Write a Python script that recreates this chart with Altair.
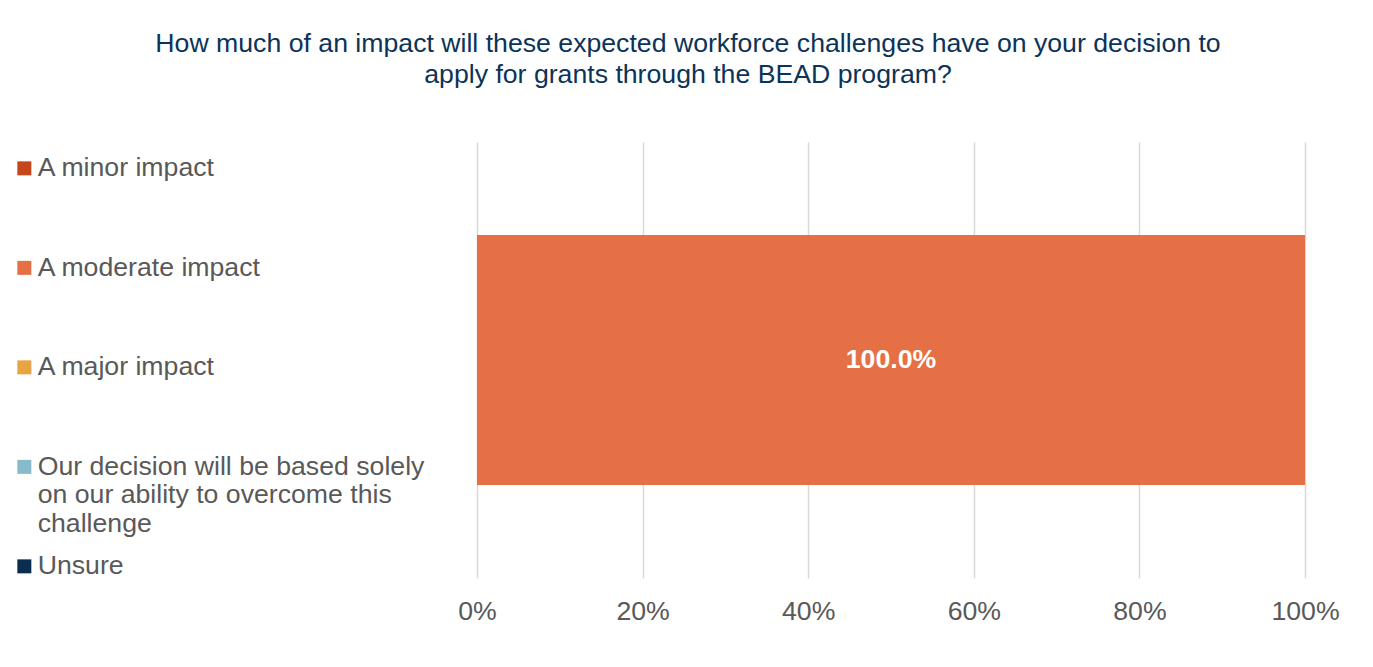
import altair as alt
import pandas as pd

TITLE_LINES = [
    "How much of an impact will these expected workforce challenges have on your decision to",
    "apply for grants through the BEAD program?",
]
CATEGORIES = [
    "A minor impact",
    "A moderate impact",
    "A major impact",
    "Our decision will be based solely on our ability to overcome this challenge",
    "Unsure",
]
WRAPPED = {
    "Our decision will be based solely on our ability to overcome this challenge": [
        "Our decision will be based solely",
        "on our ability to overcome this",
        "challenge",
    ]
}
VALUES = [0.0, 100.0, 0.0, 0.0, 0.0]
COLORS = ["#C5461B", "#E67045", "#E8A443", "#87BACB", "#0B2D4F"]
TICKS = [0, 20, 40, 60, 80, 100]

df = pd.DataFrame({
    "row": ["all"] * len(CATEGORIES),
    "category": CATEGORIES,
    "value": VALUES,
    "order": list(range(len(CATEGORIES))),
})

FONT = "Liberation Sans"
FS = 26.67
GRAY = "#595959"

label_expr_parts = []
for k, lines in WRAPPED.items():
    arr = "[" + ", ".join("'" + l + "'" for l in lines) + "]"
    label_expr_parts.append(f"datum.label == '{k}' ? {arr}")
label_expr = " : ".join(label_expr_parts) + " : datum.label"

base = alt.Chart(df)

bars = base.mark_bar(size=250).encode(
    y=alt.Y("row:N", axis=None),
    x=alt.X(
        "value:Q",
        stack="zero",
        scale=alt.Scale(domain=[0, 100], nice=False),
        axis=alt.Axis(
            values=TICKS,
            labelExpr="datum.value + '%'",
            title=None,
            domain=False,
            ticks=False,
            tickSize=0,
            grid=True,
            gridColor="#D9D9D9",
            gridWidth=1.5,
            labelFont=FONT,
            labelFontSize=FS,
            labelColor=GRAY,
            labelPadding=20,
            labelFlush=False,
        ),
    ),
    color=alt.Color(
        "category:N",
        scale=alt.Scale(domain=CATEGORIES, range=COLORS),
        legend=alt.Legend(
            title=None,
            orient="none",
            legendX=-466,
            legendY=0,
            direction="vertical",
            gridAlign="all",
            rowPadding=1.5,
            padding=0,
            symbolType="M-1,0.86H1V2.86H-1Z",
            symbolSize=196,
            symbolStrokeWidth=0,
            symbolOpacity=1,
            labelOffset=0,
            labelFont=FONT,
            labelFontSize=FS,
            labelColor=GRAY,
            labelBaseline="top",
            labelLimit=600,
            labelExpr=label_expr,
        ),
    ),
    order=alt.Order("order:Q"),
)

labels = base.transform_stack(
    stack="value", groupby=["row"], as_=["v0", "v1"], sort=[alt.SortField("order")]
).transform_calculate(
    mid="(datum.v0 + datum.v1) / 2",
    txt="format(datum.value, '.1f') + '%'",
).transform_filter("datum.value > 0").mark_text(
    font=FONT, fontSize=FS, fontWeight="bold", color="white", baseline="middle", align="center"
).encode(
    y=alt.Y("row:N", axis=None),
    x=alt.X("mid:Q"),
    text="txt:N",
)

chart = alt.layer(bars, labels).properties(
    width=828,
    height=436,
    background="white",
    autosize=alt.AutoSizeParams(type="none"),
    padding={"left": 469, "top": 134, "right": 60, "bottom": 60},
    title=alt.TitleParams(
        text=TITLE_LINES,
        font=FONT,
        fontSize=FS,
        fontWeight="normal",
        color="#0C3358",
        anchor="middle",
        frame="group",
        dx=-203,
        offset=53,
        lineHeight=31,
    ),
).configure_view(stroke=None)

chart.save("out.html", embed_options={"renderer": "svg", "actions": False})
